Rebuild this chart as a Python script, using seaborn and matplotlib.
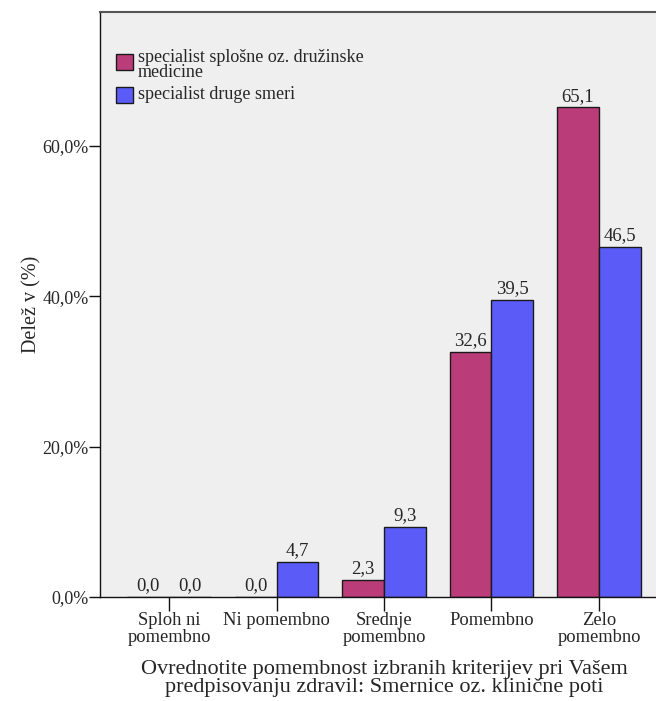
import matplotlib
matplotlib.use("Agg")
import matplotlib.pyplot as plt
import seaborn as sns
import pandas as pd
from matplotlib.ticker import FuncFormatter

# Response categories (x axis)
categories = ["Sploh ni\npomembno", "Ni pomembno", "Srednje\npomembno",
              "Pomembno", "Zelo\npomembno"]
# Groups (legend)
groups = ["specialist splošne oz. družinske\nmedicine", "specialist druge smeri"]
# Share of respondents, %
share_family = [0.0, 0.0, 2.3, 32.6, 65.1]
share_other = [0.0, 4.7, 9.3, 39.5, 46.5]
y_ticks = [0, 20, 40, 60]

df = pd.DataFrame({
    "kategorija": categories * 2,
    "skupina": [groups[0]] * len(categories) + [groups[1]] * len(categories),
    "delez": share_family + share_other,
})

sns.set_theme(style="white")
plt.rcParams["font.family"] = ["Liberation Serif", "DejaVu Serif"]
text_col = "#262626"

fig = plt.figure(figsize=(6.56, 7.01), dpi=100)
ax = fig.add_axes([100 / 656, 104 / 701, 568 / 656, 585 / 701])
ax.set_facecolor("#EFEFEF")

sns.barplot(data=df, x="kategorija", y="delez", hue="skupina",
            order=categories, hue_order=groups,
            palette=["#BA3C78", "#5B5CF8"], saturation=1,
            width=0.78, edgecolor="#1a1a1a", linewidth=1.0, ax=ax)

for cont, vals in zip(ax.containers, [share_family, share_other]):
    ax.bar_label(cont, labels=[f"{v:.1f}".replace(".", ",") for v in vals],
                 padding=2, fontsize=13.5, color=text_col)

ax.set_xlim(-0.642, 4.642)
ax.set_ylim(0, 77.8)
ax.set_yticks(y_ticks)
ax.yaxis.set_major_formatter(FuncFormatter(lambda v, p: f"{v:.1f}".replace(".", ",") + "%"))

for side in ["left", "bottom"]:
    ax.spines[side].set_color("#111111")
    ax.spines[side].set_linewidth(1.0)
ax.spines["top"].set_color("#555555")
ax.spines["top"].set_linewidth(1.5)
ax.spines["right"].set_visible(False)

ax.tick_params(axis="y", which="major", direction="out", length=8, width=1,
               color="#111111", labelsize=13, labelcolor=text_col, pad=0, left=True)
ax.tick_params(axis="x", which="major", direction="out", length=10, width=1,
               color="#111111", labelsize=13.3, labelcolor=text_col, pad=1, bottom=True)
for lbl in ax.get_xticklabels():
    lbl.set_linespacing(0.95)

ax.set_ylabel("Delež v (%)", fontsize=14.5, color=text_col, labelpad=1)
ax.set_xlabel("Ovrednotite pomembnost izbranih kriterijev pri Vašem\n"
              "predpisovanju zdravil: Smernice oz. klinične poti",
              fontsize=16, color=text_col, labelpad=10.5, linespacing=0.88)

leg = ax.legend(loc="upper left", bbox_to_anchor=(0.028, 0.937), frameon=False,
                fontsize=13, borderpad=0, borderaxespad=0, handlelength=0.95,
                handleheight=1.0, handletextpad=0.25, labelspacing=0.2)
for t in leg.get_texts():
    t.set_color(text_col)
    t.set_linespacing(0.85)
# keep the first swatch level with the first line of its two-line label
first = leg.legend_handles[0]
first.set_y(first.get_y() + 2.5)
second = leg.legend_handles[1]
second.set_y(second.get_y() - 1.5)

fig.savefig("out.png", dpi=100, facecolor="white")
